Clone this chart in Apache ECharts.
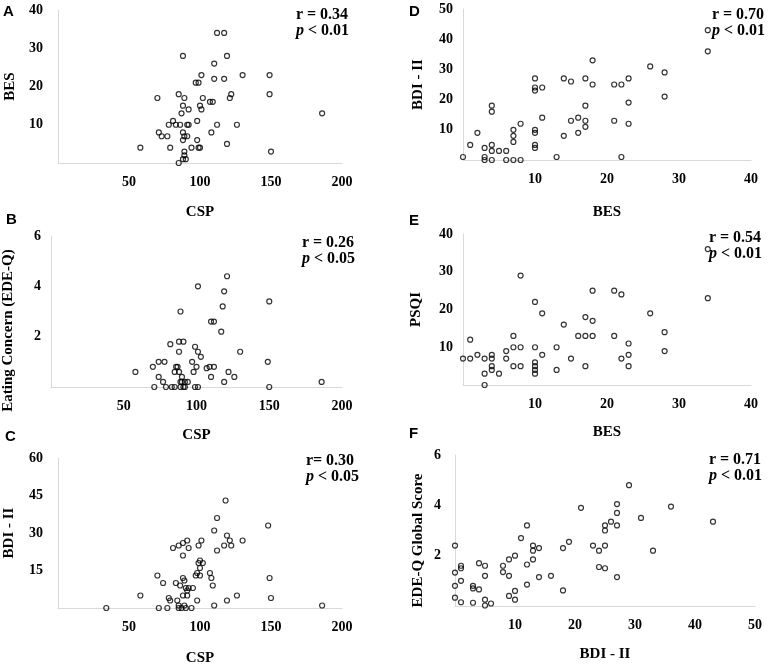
<!DOCTYPE html>
<html>
<head>
<meta charset="utf-8">
<title>Scatter panels</title>
<script src="https://cdn.jsdelivr.net/npm/echarts@6/dist/echarts.min.js"></script>
<style>
    html, body { margin: 0; padding: 0; background: #fff; }
    #chart { width: 768px; height: 667px; }
</style>
</head>
<body>
<div id="chart"></div>
<script>
    // A: CSP vs BES
    var cspBes = [[58,4],[70,17],[71,8],[73,7],[77,7],[78,10],[79,4],[81,11],[83,10],[85,18],[86,10],[85,0],
        [87,13],[88,28],[88,15],[88,8],[88,6],[89,17],[89,7],[89,2],[89,3],[88,1],[90,1],[91,7],[92,10],[91,10],
        [92,14],[94,4],[97,21],[99,21],[98,11],[98,6],[99,4],[100,4],[100,15],[101,23],[101,14],[102,17],[108,8],
        [107,16],[109,16],[110,26],[110,22],[112,34],[112,10],[117,34],[117,22],[119,28],[119,5],[121,17],[122,18],
        [126,10],[130,23],[149,18],[149,23],[150,3],[186,13]];

    // B: CSP vs Eating Concern (EDE-Q)
    var cspEating = [[58,0.6],[70,0.8],[71,0],[74,1.0],[74,0.4],[77,0.2],[78,1.0],[79,0],[82,1.7],[83,0],[85,0],
        [85,0.6],[86,0.8],[87,0.8],[88,1.4],[88,0.6],[88,1.8],[89,0.2],[89,3.0],[90,0.4],[90,0.2],[89,0],[91,0],
        [91,1.8],[92,0.2],[92,0],[94,0.2],[97,1.0],[98,0.6],[99,0],[99,1.6],[100,0.8],[101,0],[101,1.4],[101,4.0],
        [103,1.2],[107,0.75],[109,0.8],[110,0.4],[110,2.6],[112,2.6],[112,0.8],[117,2.2],[118,3.2],[119,3.8],
        [119,0.2],[121,4.4],[122,0.6],[126,0.4],[130,1.4],[149,1.0],[150,3.4],[150,0],[186,0.2]];

    // C: CSP vs BDI - II
    var cspBdi = [[34,0],[58,5],[70,13],[71,0],[74,10],[77,0],[78,4],[79,3],[81,24],[83,10],[84,3],[85,25],[85,1],
        [86,9],[85,0],[87,0],[88,21],[88,26],[88,12],[88,5],[89,11],[89,1],[90,0],[90,8],[91,5],[91,27],[91,7],
        [92,24],[92,8],[94,0],[95,8],[97,13],[98,3],[98,14],[99,25],[99,18],[100,13],[100,16],[100,19],[101,27],
        [102,18],[107,14],[108,12],[109,9],[110,31],[110,1],[112,23],[112,36],[117,25],[118,43],[119,29],[119,3],
        [121,27],[122,25],[126,5],[130,27],[148,33],[149,12],[150,4],[186,1]];

    // D: BES vs BDI - II
    var besBdi = [[0,1],[1,5],[2,9],[3,4],[3,1],[3,0],[4,5],[4,3],[4,0],[4,18],[4,16],[5,3],[6,3],[6,0],[7,10],
        [7,8],[7,6],[7,0],[8,12],[8,0],[10,27],[10,24],[10,23],[10,10],[10,9],[10,5],[10,4],[11,24],[11,14],[13,1],
        [14,27],[14,8],[15,26],[15,13],[16,14],[16,9],[17,27],[17,18],[17,13],[17,11],[18,33],[18,25],[21,25],
        [21,13],[22,25],[22,1],[23,27],[23,19],[23,12],[26,31],[28,29],[28,21],[34,43],[34,36]];

    // E: BES vs PSQI
    var besPsqi = [[0,7],[1,12],[1,7],[2,8],[3,7],[3,3],[3,0],[4,8],[4,7],[4,5],[4,4],[5,3],[6,9],[6,7],[7,13],
        [7,10],[7,5],[8,29],[8,10],[8,5],[10,22],[10,10],[10,6],[10,5],[10,4],[10,3],[11,19],[11,8],[13,10],[13,4],
        [14,16],[15,7],[16,13],[17,18],[17,13],[17,5],[18,25],[18,17],[18,13],[21,25],[21,13],[22,24],[22,7],
        [23,11],[23,8],[23,5],[26,19],[28,14],[28,9],[34,36],[34,23]];

    // F: BDI - II vs EDE-Q Global Score
    var bdiEdeq = [[0,2.4],[0,1.33],[0,0.8],[0,0.33],[1,1.6],[1,1.5],[1,1.0],[1,0.15],[3,0.8],[3,0.7],[3,0.13],
        [4,1.7],[4,0.66],[5,1.6],[5,1.2],[5,0.25],[5,0.02],[6,0.1],[8,1.6],[8,1.35],[9,1.85],[9,1.2],[9,0.4],
        [10,2.0],[10,0.6],[10,0.25],[11,2.7],[12,3.2],[12,1.65],[12,0.85],[13,2.4],[13,2.2],[13,1.85],[14,2.3],
        [14,1.15],[16,1.2],[18,2.3],[18,0.62],[19,2.55],[21,3.9],[23,2.4],[24,2.2],[24,1.55],[25,3.2],[25,3.0],
        [25,2.4],[25,1.5],[26,3.35],[27,4.05],[27,3.7],[27,3.2],[27,1.15],[29,4.8],[31,3.5],[33,2.2],[36,3.95],
        [43,3.35]];

    var panelLetters = ['A', 'B', 'C', 'D', 'E', 'F'];
    var rTexts = ['r = 0.34', 'r = 0.26', 'r= 0.30', 'r = 0.70', 'r = 0.54', 'r = 0.71'];
    var pTexts = ['< 0.01', '< 0.05', '< 0.05', '< 0.01', '< 0.01', '< 0.01'];
    var xNames = ['CSP', 'CSP', 'CSP', 'BES', 'BES', 'BDI - II'];
    var yNames = ['BES', 'Eating Concern (EDE-Q)', 'BDI - II', 'BDI - II', 'PSQI', 'EDE-Q Global Score'];
    var xMax = [200, 200, 200, 40, 40, 50];
    var xStep = [50, 50, 50, 10, 10, 10];
    var yMax = [40, 6, 60, 50, 40, 6];
    var yStep = [10, 2, 15, 10, 10, 2];
    var panelData = [cspBes, cspEating, cspBdi, besBdi, besPsqi, bdiEdeq];

    var serif = '"Liberation Serif", "Times New Roman", serif';
    var axisGray = '#d9d9d9';

    // layout, tuned by eye against the figure
    var grids = [
        {left: 58, top: 10, width: 284, height: 153},
        {left: 50, top: 236, width: 292, height: 151},
        {left: 58, top: 458, width: 284, height: 151},
        {left: 463, top: 9, width: 288, height: 151},
        {left: 463, top: 234, width: 288, height: 151},
        {left: 455, top: 455, width: 300, height: 151}
    ];
    var yLabelGap = [15, 10, 15, 10, 10, 14];
    var yNameGap = [40, 35, 41, 37, 39, 29];
    var yNamePad = [0, 38, 0, 0, 0, 20];
    var xNameGap = [42, 41, 43, 45, 40, 41];
    var letterPos = [[3, 4], [6, 212], [5, 429], [409, 4], [409, 213], [409, 426]];
    var statPos = [[349, 7], [355, 235], [359, 453], [765, 7], [762, 230], [762, 452]];

    var xAxes = [], yAxes = [], series = [], titles = [];

    for (var i = 0; i < 6; i++) {
        xAxes.push({
            gridIndex: i,
            type: 'value',
            min: 0,
            max: xMax[i],
            interval: xStep[i],
            name: xNames[i],
            nameLocation: 'middle',
            nameGap: xNameGap[i],
            nameTextStyle: {fontFamily: serif, fontWeight: 'bold', fontSize: 15, color: '#000'},
            axisLine: {show: true, lineStyle: {color: axisGray, width: 1}},
            axisTick: {show: false},
            splitLine: {show: false},
            axisLabel: {
                showMinLabel: false,
                margin: 12,
                fontFamily: serif, fontWeight: 'bold', fontSize: 14, color: '#000'
            }
        });

        var pad = yNamePad[i];
        yAxes.push({
            gridIndex: i,
            type: 'value',
            min: 0,
            max: yMax[i],
            interval: yStep[i],
            name: yNames[i],
            nameLocation: 'middle',
            nameGap: yNameGap[i],
            nameTextStyle: {
                fontFamily: serif, fontWeight: 'bold', fontSize: 15, color: '#000',
                padding: [0, pad, 0, 0]
            },
            axisLine: {show: true, lineStyle: {color: axisGray, width: 1}},
            axisTick: {show: false},
            splitLine: {show: false},
            axisLabel: {
                showMinLabel: false,
                margin: yLabelGap[i],
                fontFamily: serif, fontWeight: 'bold', fontSize: 14, color: '#000'
            }
        });

        series.push({
            type: 'scatter',
            xAxisIndex: i,
            yAxisIndex: i,
            data: panelData[i],
            symbol: 'circle',
            symbolSize: 5,
            itemStyle: {color: 'rgba(255,255,255,0)', borderColor: '#000', borderWidth: 1.2},
            emphasis: {disabled: true},
            silent: true
        });

        titles.push({
            text: panelLetters[i],
            left: letterPos[i][0],
            top: letterPos[i][1],
            padding: 0,
            textStyle: {fontFamily: '"Liberation Sans", Arial, sans-serif', fontWeight: 'bold', fontSize: 15, color: '#000'}
        });

        // r / p annotation, box pinned by its right edge
        titles.push({
            text: rTexts[i] + '\n{it|p} ' + pTexts[i],
            right: 768 - statPos[i][0],
            top: statPos[i][1],
            padding: 0,
            textStyle: {
                fontFamily: serif, fontWeight: 'bold', fontSize: 16, color: '#000', lineHeight: 16,
                rich: {
                    it: {fontFamily: serif, fontWeight: 'bold', fontStyle: 'italic', fontSize: 16, color: '#000', lineHeight: 16}
                }
            }
        });
    }

    var chart = echarts.init(document.getElementById('chart'), null, {renderer: 'canvas'});
    chart.setOption({
        backgroundColor: '#fff',
        animation: false,
        title: titles,
        grid: grids,
        xAxis: xAxes,
        yAxis: yAxes,
        series: series
    });
</script>
</body>
</html>
